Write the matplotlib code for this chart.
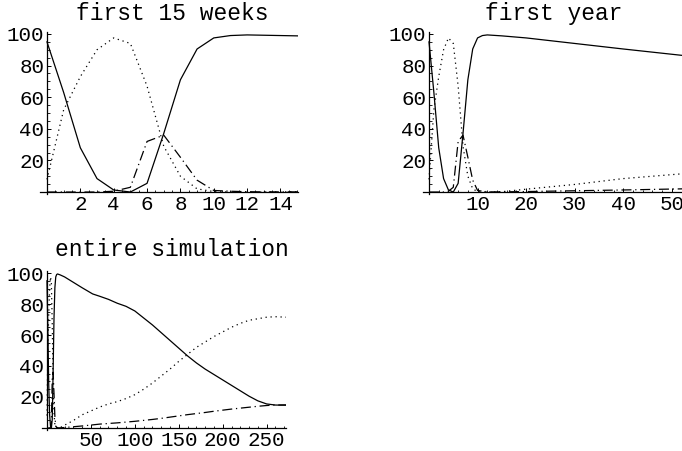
import numpy as np
import matplotlib.pyplot as plt
from matplotlib.ticker import MultipleLocator

plt.rcParams['font.family'] = ['Liberation Mono', 'DejaVu Sans Mono']

# weeks and the three series (percent)
weeks = [0, 1, 2, 3, 4, 5, 6, 7, 8, 9, 10, 11, 12, 13, 14, 15,
         20, 30, 40, 52, 60, 70, 80, 90, 100, 110, 120, 130, 140, 150,
         160, 170, 180, 190, 200, 210, 220, 230, 240, 250, 260, 272]
solid = [95, 63, 28, 8.5, 1.3, 0, 5.5, 37, 71, 90.5, 97.5, 99, 99.4, 99.2, 99, 98.8,
         97.5, 94, 90.5, 86.5, 85, 83, 80.5, 78.5, 75.5, 71, 66.5, 61.5, 56.5, 51.5,
         46.5, 42, 38, 34.5, 31, 27.5, 24, 20.5, 17.5, 15.5, 14.8, 14.7]
dotted = [8, 52, 73, 90, 97.5, 94, 67, 29, 10, 2, 0.3, 0, 0, 0, 0.1, 0.2,
          1.8, 4.8, 8.5, 11.5, 13.5, 15.5, 17, 19, 21.5, 25, 29, 33.5, 38, 43,
          47.5, 52, 55.5, 59, 62, 65, 67.5, 69.5, 70.5, 71.5, 71.8, 71.5]
dashdot = [0, 0, 0, 0, 0.5, 3, 32, 36, 22, 7.5, 1, 0.5, 0.2, 0.1, 0.1, 0.1,
           0.3, 0.8, 1.3, 2, 2.5, 2.9, 3.3, 3.8, 4.3, 4.9, 5.5, 6.2, 7, 7.8,
           8.6, 9.3, 10, 10.8, 11.5, 12.2, 12.8, 13.4, 14, 14.5, 14.8, 14.9]

W, H = 682, 451
fig = plt.figure(figsize=(W / 100, H / 100), dpi=100)


def panel(px_left, px_right, px_top, px_bottom, xlim, xmajor, xminor, title, tx, ty):
    ax = fig.add_axes([px_left / W, 1 - px_bottom / H,
                       (px_right - px_left) / W, (px_bottom - px_top) / H])
    ax.plot(weeks, solid, color='black', lw=0.9)
    ax.plot(weeks, dotted, color='black', lw=0.9, linestyle=(0, (1, 3)))
    ax.plot(weeks, dashdot, color='black', lw=0.9, linestyle=(0, (8, 3, 1, 3)))
    ax.set_xlim(*xlim)
    ax.set_ylim(-1.5, 101.5)
    for s in ['top', 'right']:
        ax.spines[s].set_visible(False)
    ax.spines['left'].set_position(('data', 0))
    ax.spines['bottom'].set_position(('data', 0))
    for s in ['left', 'bottom']:
        ax.spines[s].set_linewidth(0.9)
    ax.set_xticks(np.arange(xmajor, xlim[1] + 0.01, xmajor))
    ax.set_yticks([20, 40, 60, 80, 100])
    ax.xaxis.set_minor_locator(MultipleLocator(xminor))
    ax.yaxis.set_minor_locator(MultipleLocator(5))
    ax.tick_params(which='major', direction='in', length=3, width=0.7,
                   labelsize=15, pad=2)
    ax.tick_params(which='minor', direction='in', length=1.8, width=0.6)
    ax.patch.set_visible(False)
    fig.text(tx / W, 1 - ty / H, title, ha='center', va='baseline', fontsize=16.5)
    return ax


panel(40.3, 298, 31.6, 194.4, (-0.4, 15.05), 2, 0.5, 'first 15 weeks', 172, 20)
panel(422.7, 681.5, 31.6, 194.4, (-1.3, 52), 10, 2, 'first year', 554, 20)
panel(41.7, 286, 270.7, 430.3, (-6, 272), 50, 10, 'entire simulation', 172, 256)

fig.savefig('out.png', dpi=100)
